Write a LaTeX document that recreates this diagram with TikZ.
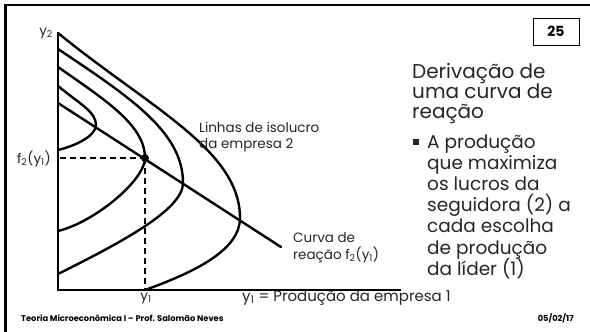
\documentclass[tikz,border=0pt]{standalone}
\usepackage{fontspec}
\setmainfont{Poppins}
\begin{document}
\begin{tikzpicture}[x=1pt,y=-1pt,
  curve/.style={line width=2.4pt, line join=round, line cap=round},
  axis/.style={line width=2.6pt},
  guide/.style={line width=1.4pt, dash pattern=on 6pt off 4pt},
  lbl/.style={font=\fontsize{13.5}{16}\selectfont, inner sep=0pt, text=black!85},
  xlbl/.style={font=\fontsize{15}{17}\selectfont, inner sep=0pt, text=black!85},
  big/.style={font=\fontsize{20}{22}\selectfont, inner sep=0pt, text=black!85},
  body/.style={font=\fontsize{18.5}{21}\selectfont, inner sep=0pt, text=black!85},
  foot/.style={font=\bfseries\fontsize{8.3}{10}\selectfont, inner sep=0pt},
]
\useasboundingbox (0,0) rectangle (590,332);
% slide frame
\draw[line width=2.6pt] (5.5,332) -- (5.5,5) -- (590,5);
% page number box
\node[draw, line width=0.8pt, minimum width=46pt, minimum height=27pt, inner sep=0pt,
      font=\bfseries\fontsize{14}{16}\selectfont] (num) at (556,31.5) {25};
% axes
\coordinate (Ytop) at (58,33);
\coordinate (O) at (58,290);
\coordinate (Xend) at (401,290);
\draw[axis] (Ytop) -- (O) -- (Xend);
% reaction line
\coordinate (R0) at (58,103);
\coordinate (R1) at (281,247);
\draw[curve] (R0) -- (R1);
% isoprofit curves
\draw[curve] (58,86) .. controls (80,104) and (96,112) .. (96,125)
                     .. controls (96,136) and (75,146) .. (58,150);
\draw[curve] (58,67) .. controls (105,100) and (145,125) .. (145,158)
                     .. controls (145,180) and (95,222) .. (58,231);
\draw[curve] (58,49) .. controls (133,99) and (183,133) .. (183,183)
                     .. controls (183,210) and (120,243) .. (58,274);
\draw[curve] (58,33) .. controls (150,108) and (240,150) .. (240,218)
                     .. controls (240,250) and (195,272) .. (145,290);
% equilibrium point and guides
\node[circle, fill, inner sep=0pt, minimum size=8pt] (E) at (145,158) {};
\coordinate (Ey) at (60,158);
\coordinate (Ex) at (145,290);
\draw[guide] (Ey) -- (E.center);
\draw[guide] (E.center) -- (Ex);
% axis labels
\node[lbl, anchor=base east] (ly2) at (53,35) {y\textsubscript{2}};
\node[lbl, anchor=base east] (lf2) at (51,163) {f\textsubscript{2}(y\textsubscript{1})};
\node[lbl, anchor=base] (ly1) at (146,300) {y\textsubscript{1}};
\node[xlbl, anchor=base west] (lx) at (242,301) {y\textsubscript{1} = Produção da empresa 1};
% curve labels
\node[lbl, anchor=base west] (li1) at (199,132) {Linhas de isolucro};
\node[lbl, anchor=base west] (li2) at (199,148) {da empresa 2};
\node[lbl, anchor=base west] (cr1) at (293,242) {Curva de};
\node[lbl, anchor=base west] (cr2) at (293,259) {reação f\textsubscript{2}(y\textsubscript{1})};
% right text
\node[big, anchor=base west] (t1) at (412,78) {Derivação de};
\node[big, anchor=base west] (t2) at (412,98) {uma curva de};
\node[big, anchor=base west] (t3) at (412,118) {reação};
\node[fill=black!85, minimum size=6pt, inner sep=0pt] (bul) at (416,141.5) {};
\node[body, anchor=base west] (b1) at (427,148) {A produção};
\node[body, anchor=base west] (b2) at (427,169) {que maximiza};
\node[body, anchor=base west] (b3) at (427,190) {os lucros da};
\node[body, anchor=base west] (b4) at (427,211) {seguidora (2) a};
\node[body, anchor=base west] (b5) at (427,232) {cada escolha};
\node[body, anchor=base west] (b6) at (427,254) {de produção};
\node[body, anchor=base west] (b7) at (427,275) {da líder (1)};
% footer
\node[foot, anchor=base west] (f1) at (21,321) {Teoria Microeconômica I – Prof. Salomão Neves};
\node[foot, anchor=base east] (f2) at (574,321) {05/02/17};
\end{tikzpicture}
\end{document}
